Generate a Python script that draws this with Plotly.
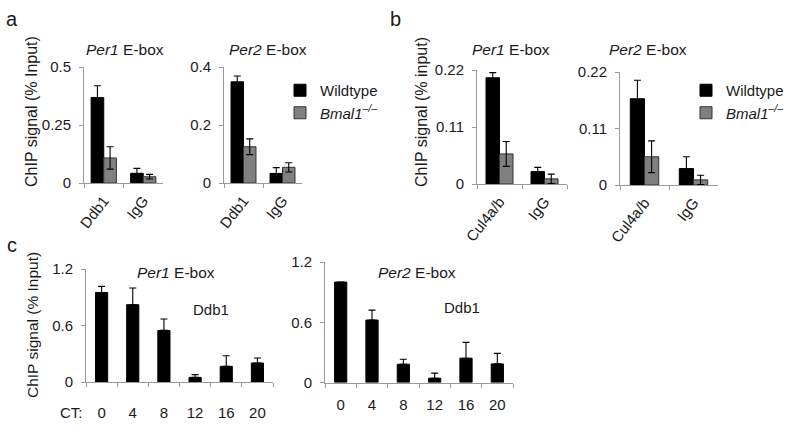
import plotly.graph_objects as go

W, H = 800, 435

# ---------------- data ----------------
a_cats = ["Ddb1", "IgG"]
b_cats = ["Cul4a/b", "IgG"]
ct_labels = ["0", "4", "8", "12", "16", "20"]

a_per1_wt = [0.368, 0.042]
a_per1_wt_err = [0.051, 0.021]
a_per1_ko = [0.108, 0.027]
a_per1_ko_err = [0.048, 0.010]

a_per2_wt = [0.349, 0.033]
a_per2_wt_err = [0.020, 0.020]
a_per2_ko = [0.125, 0.054]
a_per2_ko_err = [0.027, 0.016]

b_per1_wt = [0.205, 0.024]
b_per1_wt_err = [0.010, 0.008]
b_per1_ko = [0.058, 0.010]
b_per1_ko_err = [0.024, 0.009]

b_per2_wt = [0.168, 0.032]
b_per2_wt_err = [0.036, 0.023]
b_per2_ko = [0.055, 0.010]
b_per2_ko_err = [0.031, 0.009]

c_per1 = [0.951, 0.821, 0.548, 0.049, 0.166, 0.202]
c_per1_err = [0.064, 0.177, 0.121, 0.029, 0.113, 0.053]
c_per2 = [1.0, 0.622, 0.182, 0.043, 0.242, 0.185]
c_per2_err = [0.0, 0.099, 0.050, 0.050, 0.158, 0.105]

# ---------------- styling helpers ----------------
FONT = "Liberation Sans, Arial, sans-serif"
TXT = "#1a1a1a"
AX = "#9a9a9a"
WT_COLOR = "#000000"
KO_COLOR = "#808080"


def px(x):
    return x / W


def py(y):
    return 1 - y / H


fig = go.Figure()


def err(vals, sym=True):
    d = dict(type="data", array=vals, color="#000000", thickness=1.1, width=3.5, visible=True)
    if not sym:
        d["symmetric"] = False
        d["arrayminus"] = [0] * len(vals)
    return d


def pair(xa, ya, cats, wt, wt_e, ko, ko_e, w, legend=None):
    show = legend is not None
    fig.add_trace(go.Bar(
        x=cats, y=wt, error_y=err(wt_e), width=w, offset=-w,
        marker=dict(color=WT_COLOR, line=dict(color="#000000", width=1)),
        name="Wildtype", xaxis=xa, yaxis=ya, showlegend=show,
        legend=legend if show else None,
    ))
    fig.add_trace(go.Bar(
        x=cats, y=ko, error_y=err(ko_e), width=w, offset=0,
        marker=dict(color=KO_COLOR, line=dict(color="#333333", width=1)),
        name="<i>Bmal1<sup>\u2013/\u2013</sup></i>", xaxis=xa, yaxis=ya, showlegend=show,
        legend=legend if show else None,
    ))


pair("x", "y", a_cats, a_per1_wt, a_per1_wt_err, a_per1_ko, a_per1_ko_err, 0.32)
pair("x2", "y2", a_cats, a_per2_wt, a_per2_wt_err, a_per2_ko, a_per2_ko_err, 0.32, legend="legend")
pair("x3", "y3", b_cats, b_per1_wt, b_per1_wt_err, b_per1_ko, b_per1_ko_err, 0.30)
pair("x4", "y4", b_cats, b_per2_wt, b_per2_wt_err, b_per2_ko, b_per2_ko_err, 0.29, legend="legend2")

for xa, ya, vals, e in [("x5", "y5", c_per1, c_per1_err), ("x6", "y6", c_per2, c_per2_err)]:
    fig.add_trace(go.Bar(
        x=ct_labels, y=vals, error_y=err(e, sym=False), width=0.39, offset=-0.195,
        marker=dict(color=WT_COLOR, line=dict(color="#000000", width=1)),
        xaxis=xa, yaxis=ya, showlegend=False,
    ))

# ---------------- axes ----------------
panels = {
    1: dict(x=(84, 163), y=(67, 183), rng=[0, 0.5], tv=[0, 0.25, 0.5], tt=["0", "0.25", "0.5"], rot=True),
    2: dict(x=(224, 302), y=(67, 183), rng=[0, 0.4], tv=[0, 0.2, 0.4], tt=["0", "0.2", "0.4"], rot=True),
    3: dict(x=(477, 567), y=(70, 184), rng=[0, 0.22], tv=[0, 0.11, 0.22], tt=["0", "0.11", "0.22"], rot=True),
    4: dict(x=(620, 718), y=(72, 185), rng=[0, 0.22], tv=[0, 0.11, 0.22], tt=["0", "0.11", "0.22"], rot=True),
    5: dict(x=(86, 273), y=(269, 382), rng=[0, 1.2], tv=[0, 0.6, 1.2], tt=["0", "0.6", "1.2"], rot=False, stand=17),
    6: dict(x=(325, 513), y=(262, 382.5), rng=[0, 1.2], tv=[0, 0.6, 1.2], tt=["0", "0.6", "1.2"], rot=False, stand=8),
}

for i, p in panels.items():
    sx = "" if i == 1 else str(i)
    xa = dict(
        domain=[px(p["x"][0]), px(p["x"][1])], anchor="y" + sx, type="category",
        showline=True, linecolor=AX, linewidth=1, showgrid=False, zeroline=False,
        ticks="outside", ticklen=4, tickcolor=AX, tickson="boundaries", automargin=False,
        tickfont=dict(family=FONT, size=15, color=TXT), fixedrange=True,
    )
    if p["rot"]:
        xa["tickangle"] = -52
        xa["ticklabelstandoff"] = 2
    else:
        xa["tickangle"] = 0
        xa["ticklabelstandoff"] = p["stand"]
    ya = dict(
        domain=[py(p["y"][1]), py(p["y"][0])], anchor="x" + sx, range=p["rng"],
        showline=True, linecolor=AX, linewidth=1, showgrid=False, zeroline=False,
        ticks="outside", ticklen=4, tickcolor=AX, tickvals=p["tv"], ticktext=p["tt"],
        tickfont=dict(family=FONT, size=15, color=TXT), ticklabelstandoff=5, fixedrange=True,
        automargin=False,
    )
    fig.update_layout(**{"xaxis" + sx: xa, "yaxis" + sx: ya})

# ---------------- annotations ----------------
ann = []


def text(x, y, s, size=15, angle=0, xanchor="center"):
    ann.append(dict(x=px(x), y=py(y), xref="paper", yref="paper", text=s, showarrow=False,
                    xanchor=xanchor, yanchor="middle", textangle=angle,
                    font=dict(family=FONT, size=size, color=TXT)))


text(12, 19, "a", 20)
text(395, 19, "b", 20)
text(12, 245, "c", 20)

text(125, 49, "<i>Per1</i> E-box", 15.5)
text(268, 49, "<i>Per2</i> E-box", 15.5)
text(511, 49, "<i>Per1</i> E-box", 15.5)
text(648, 49, "<i>Per2</i> E-box", 15.5)
text(176, 272, "<i>Per1</i> E-box", 15.5)
text(417, 272, "<i>Per2</i> E-box", 15.5)
text(211, 309, "Ddb1", 15)
text(462, 307, "Ddb1", 15)
text(71, 412, "CT:", 15)

text(31, 112, "ChIP signal (% Input)", 16, -90)
text(421, 112, "ChIP signal (% input)", 16, -90)
text(32, 325, "ChIP signal (% Input)", 15.5, -90)

fig.update_layout(
    width=W, height=H, margin=dict(l=0, r=0, t=0, b=0, autoexpand=False),
    paper_bgcolor="white", plot_bgcolor="white",
    barmode="overlay", annotations=ann,
    font=dict(family=FONT, size=15, color=TXT),
    legend=dict(x=px(280), y=py(74), xanchor="left", yanchor="top",
                font=dict(family=FONT, size=15, color=TXT), bgcolor="rgba(0,0,0,0)",
                tracegroupgap=0, itemwidth=30),
    legend2=dict(x=px(686), y=py(74), xanchor="left", yanchor="top",
                 font=dict(family=FONT, size=15, color=TXT), bgcolor="rgba(0,0,0,0)",
                 tracegroupgap=0, itemwidth=30),
)

fig.write_html(
    "out.html",
    config={"displayModeBar": False, "staticPlot": True},
    post_script="document.body.style.margin='0';document.body.style.overflow='hidden';",
)
